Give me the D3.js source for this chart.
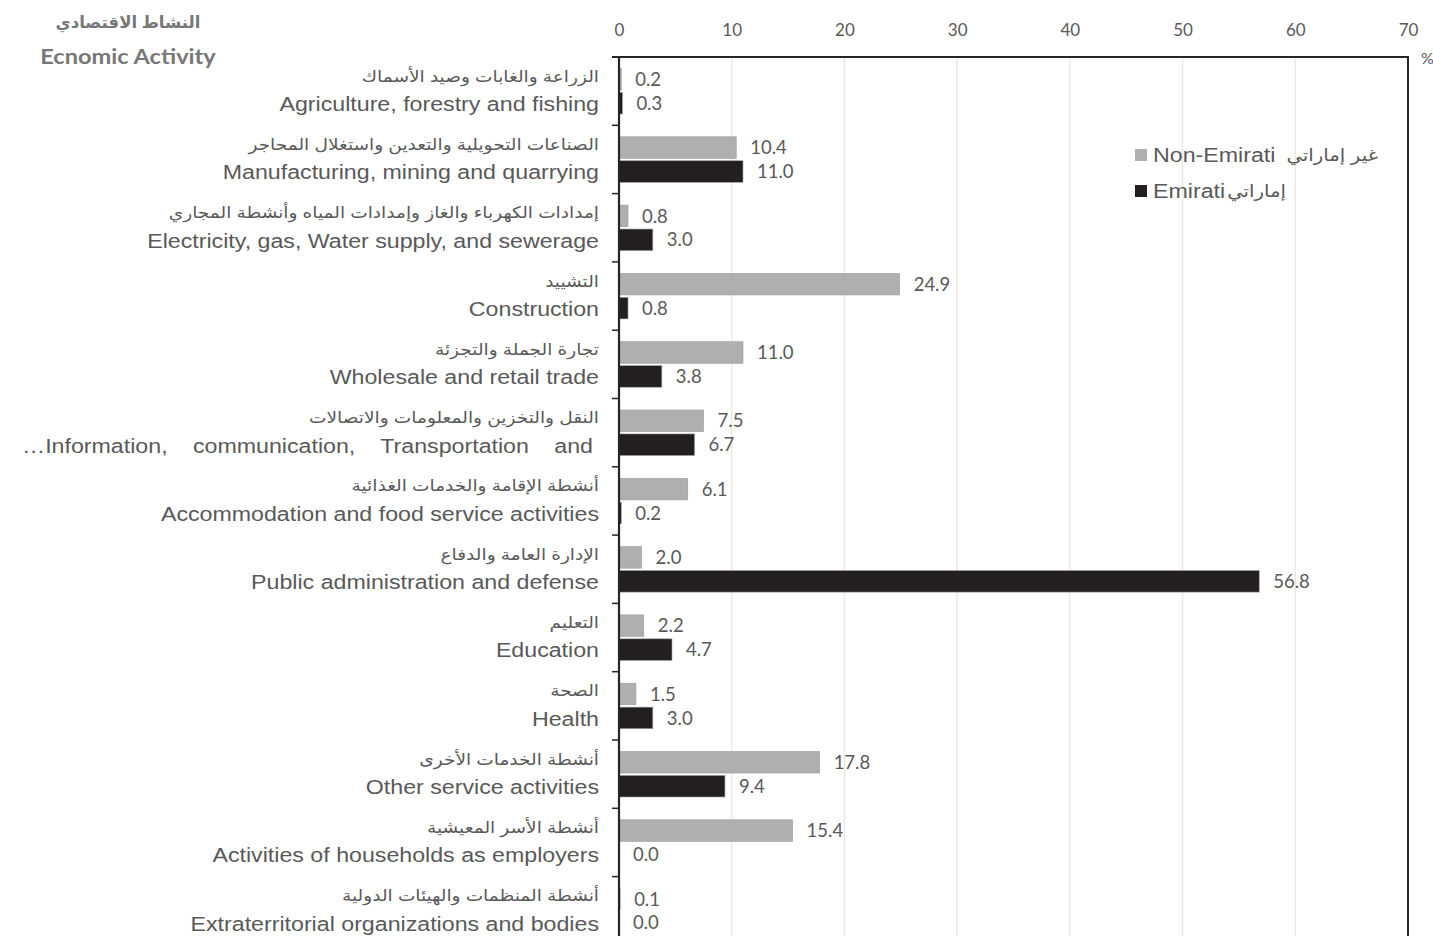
<!DOCTYPE html>
<html>
<head>
<meta charset="utf-8">
<script src="https://cdn.jsdelivr.net/npm/d3@7"></script>
<style>
  html, body { margin: 0; padding: 0; background: #fff; overflow: hidden; }
  svg { display: block; }
</style>
</head>
<body>
<svg id="chart" width="1433" height="936"></svg>
<script>
// Economic activity categories (Arabic / English labels)
const categoriesAr = [
  "الزراعة والغابات وصيد الأسماك",
  "الصناعات التحويلية والتعدين واستغلال المحاجر",
  "إمدادات الكهرباء والغاز وإمدادات المياه وأنشطة المجاري",
  "التشييد",
  "تجارة الجملة والتجزئة",
  "النقل والتخزين والمعلومات والاتصالات",
  "أنشطة الإقامة والخدمات الغذائية",
  "الإدارة العامة والدفاع",
  "التعليم",
  "الصحة",
  "أنشطة الخدمات الأخرى",
  "أنشطة الأسر المعيشية",
  "أنشطة المنظمات والهيئات الدولية"
];
const categoriesEn = [
  "Agriculture, forestry and fishing",
  "Manufacturing, mining and quarrying",
  "Electricity, gas, Water supply, and sewerage",
  "Construction",
  "Wholesale and retail trade",
  "…Information, communication, Transportation and",
  "Accommodation and food service activities",
  "Public administration and defense",
  "Education",
  "Health",
  "Other service activities",
  "Activities of households as employers",
  "Extraterritorial organizations and bodies"
];
// Percentage shares
const nonEmirati = [0.2, 10.4, 0.8, 24.9, 11.0, 7.5, 6.1, 2.0, 2.2, 1.5, 17.8, 15.4, 0.1];
const emirati    = [0.3, 11.0, 3.0, 0.8, 3.8, 6.7, 0.2, 56.8, 4.7, 3.0, 9.4, 0.0, 0.0];
const xTicks = [0, 10, 20, 30, 40, 50, 60, 70];
const seriesKeys = ["nonEmirati", "emirati"];
const seriesEn = ["Non-Emirati", "Emirati"];
const seriesAr = ["غير إماراتي", "إماراتي"];

const colors = { nonEmirati: "#afafaf", emirati: "#231f20" };
const textColor = "#595959";
const latin = "Lato, 'Open Sans', sans-serif";
const arial = "'Liberation Sans', Arial, 'DejaVu Sans', sans-serif";
const stretch = 1.16; // labels are set in a slightly widened face

const svg = d3.select("#chart");

const plot = { left: 619, right: 1408, top: 57 };
const bandStep = 68.3;

const x = d3.scaleLinear().domain([0, 70]).range([plot.left, plot.right]);
const idx = d3.range(categoriesEn.length);
const y = d3.scaleBand().domain(idx).range([plot.top, plot.top + bandStep * idx.length]).padding(0);
const ySub = d3.scaleBand().domain(seriesKeys).range([11.5, 57]).paddingInner(0.1);

const rows = idx.map(i => ({ i, nonEmirati: nonEmirati[i], emirati: emirati[i] }));

// Helper: text widened horizontally around its anchor point
function wideText(parent, px, py, sx) {
  return parent.append("g")
    .attr("transform", `translate(${px},${py}) scale(${sx},1)`)
    .append("text");
}

// Gridlines
svg.append("g")
  .selectAll("line")
  .data(xTicks.filter(t => t > 0 && t < 70))
  .join("line")
  .attr("x1", d => x(d)).attr("x2", d => x(d))
  .attr("y1", plot.top).attr("y2", 936)
  .attr("stroke", "#ede9dc").attr("stroke-width", 1.5);

// Top axis labels
const xAxis = svg.append("g")
  .attr("transform", `translate(0,${plot.top})`)
  .call(d3.axisTop(x).tickValues(xTicks).tickSize(0).tickPadding(21).tickFormat(d3.format("d")));
xAxis.select(".domain").remove();
xAxis.selectAll("text")
  .attr("fill", textColor)
  .style("font-family", latin)
  .style("font-size", "17px");

svg.append("text")
  .attr("x", 1421).attr("y", 64)
  .attr("fill", textColor)
  .style("font-family", latin).style("font-size", "16px")
  .text("%");

// Bars
const groups = svg.append("g").selectAll("g")
  .data(rows)
  .join("g")
  .attr("transform", d => `translate(0,${y(d.i)})`);

groups.selectAll("rect")
  .data(d => seriesKeys.map(k => ({ key: k, value: d[k] })))
  .join("rect")
  .attr("x", x(0))
  .attr("y", d => ySub(d.key))
  .attr("width", d => x(d.value) - x(0))
  .attr("height", ySub.bandwidth())
  .attr("fill", d => colors[d.key])
  .attr("stroke", "#9a9a9a")
  .attr("stroke-width", d => d.value > 0.05 ? 0.6 : 0);

groups.selectAll("text.val")
  .data(d => seriesKeys.map(k => ({ key: k, value: d[k] })))
  .join("text")
  .attr("class", "val")
  .attr("x", d => x(d.value) + 14)
  .attr("y", d => ySub(d.key) + ySub.bandwidth() / 2)
  .attr("dy", "0.36em")
  .attr("fill", textColor)
  .style("font-family", latin)
  .style("font-size", "18.5px")
  .text(d => d3.format(".1f")(d.value));

// Frame: left axis, top and right border
const frame = svg.append("g").attr("stroke", "#262626");
frame.append("line")
  .attr("x1", plot.left).attr("x2", plot.left)
  .attr("y1", plot.top - 1).attr("y2", 936)
  .attr("stroke-width", 2.2);
frame.append("line")
  .attr("x1", plot.left - 7).attr("x2", plot.right + 1)
  .attr("y1", plot.top).attr("y2", plot.top)
  .attr("stroke-width", 2);
frame.append("line")
  .attr("x1", plot.right).attr("x2", plot.right)
  .attr("y1", plot.top).attr("y2", 936)
  .attr("stroke-width", 2);
frame.selectAll("line.tick")
  .data(idx.slice(1))
  .join("line")
  .attr("class", "tick")
  .attr("x1", plot.left - 7).attr("x2", plot.left)
  .attr("y1", d => y(d)).attr("y2", d => y(d))
  .attr("stroke-width", 1.5);

// Category labels
const labels = svg.append("g").selectAll("g")
  .data(rows)
  .join("g")
  .attr("transform", d => `translate(0,${y(d.i)})`);

labels.each(function(d) {
  const g = d3.select(this);
  wideText(g, 599, 19, stretch)
    .attr("dy", "0.35em")
    .attr("text-anchor", "end")
    .attr("fill", textColor)
    .style("font-family", arial).style("font-size", "16px")
    .text(categoriesAr[d.i]);

  const en = wideText(g, d.i === 5 ? 593 : 599, 47, stretch)
    .attr("dy", "0.35em")
    .attr("text-anchor", "end")
    .attr("fill", textColor)
    .style("font-family", arial).style("font-size", "20px")
    .text(categoriesEn[d.i]);

  // The justified transport label spreads its words across the column
  if (d.i === 5) {
    const w = en.node().getComputedTextLength();
    const gaps = (categoriesEn[d.i].match(/ /g) || []).length;
    en.style("word-spacing", (((593 - 22) / stretch - w) / gaps) + "px");
  }
});

// Header
svg.append("text")
  .attr("x", 128).attr("y", 22).attr("dy", "0.35em")
  .attr("text-anchor", "middle")
  .attr("fill", "#777")
  .style("font-family", arial).style("font-size", "16.5px").style("font-weight", "bold")
  .text("النشاط الاقتصادي");
wideText(svg, 128, 57, 1.18)
  .attr("dy", "0.35em")
  .attr("text-anchor", "middle")
  .attr("fill", "#777")
  .style("font-family", latin).style("font-size", "20px").style("font-weight", "bold")
  .text("Ecnomic Activity");

// Legend
const legendY = d3.scalePoint().domain(seriesKeys).range([155, 191]);
const leg = svg.append("g").selectAll("g")
  .data(seriesKeys.map((k, i) => ({ key: k, en: seriesEn[i], ar: seriesAr[i], gap: i === 0 ? 11 : 2 })))
  .join("g")
  .attr("transform", d => `translate(1135,${legendY(d.key)})`);
leg.append("rect")
  .attr("x", 0).attr("y", -6).attr("width", 12).attr("height", 12)
  .attr("fill", d => colors[d.key]);
leg.each(function(d) {
  const g = d3.select(this);
  const en = wideText(g, 18, 0, stretch)
    .attr("dy", "0.35em")
    .attr("fill", textColor)
    .style("font-family", arial).style("font-size", "20px")
    .text(d.en);
  const w = en.node().getComputedTextLength() * stretch;
  wideText(g, 18 + w + d.gap, 0, stretch)
    .attr("dy", "0.35em")
    .attr("fill", textColor)
    .style("font-family", arial).style("font-size", "17px")
    .text(d.ar);
});
</script>
</body>
</html>
